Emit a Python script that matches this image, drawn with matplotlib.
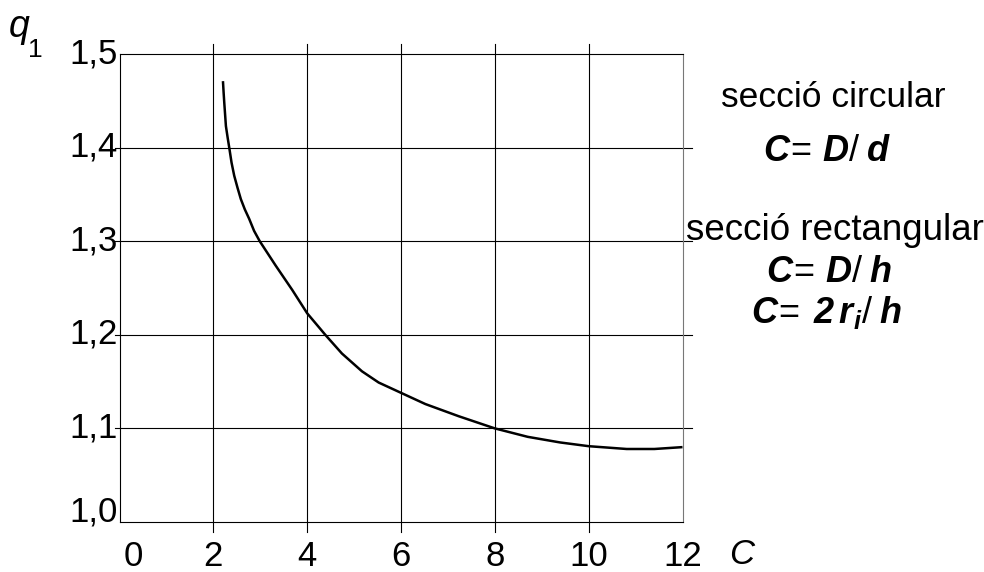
import matplotlib
matplotlib.use("Agg")
import matplotlib.pyplot as plt
import matplotlib.transforms as mtransforms

plt.rcParams['font.family'] = ['Liberation Sans', 'DejaVu Sans']
plt.rcParams['mathtext.fontset'] = 'custom'
plt.rcParams['mathtext.rm'] = 'Liberation Sans'
plt.rcParams['mathtext.it'] = 'Liberation Sans:italic'
plt.rcParams['mathtext.bf'] = 'Liberation Sans:bold:italic'

# q1 factor against spring index C
C = [2.205, 2.219, 2.233, 2.268, 2.304, 2.339, 2.388, 2.445, 2.516, 2.586,
     2.671, 2.763, 2.869, 2.989, 3.328, 3.681, 4.0, 4.386, 4.741, 5.168,
     5.524, 6.0, 6.52, 7.23, 8.0, 8.7, 9.39, 10.0, 10.81, 11.4, 12.0]
q1 = [1.471, 1.459, 1.448, 1.423, 1.411, 1.400, 1.384, 1.370, 1.357, 1.345,
      1.334, 1.324, 1.311, 1.300, 1.274, 1.248, 1.223, 1.200, 1.180, 1.161,
      1.149, 1.138, 1.126, 1.113, 1.100, 1.091, 1.085, 1.081, 1.078, 1.078,
      1.080]

xticks = [0, 2, 4, 6, 8, 10, 12]
yticks = [1.0, 1.1, 1.2, 1.3, 1.4, 1.5]
ylabels = ['1,0', '1,1', '1,2', '1,3', '1,4', '1,5']

W, H = 984, 572
fig = plt.figure(figsize=(W / 100, H / 100), dpi=100)
ax = fig.add_axes([119.5 / W, 1 - 522 / H, (682.5 - 119.5) / W, (522 - 54) / H])

ax.set_xlim(0, 12)
ax.set_ylim(1.0, 1.5)

# grid lines, sticking out a little past the frame
for x in xticks[1:-1]:
    ax.plot([x, x], [0.989, 1.511], color='black', lw=0.8, clip_on=False)
for y in yticks[1:-1]:
    ax.plot([-0.1, 12.2], [y, y], color='black', lw=0.8, clip_on=False)

ax.plot(C, q1, color='black', lw=1.8, solid_capstyle='butt')

for side in ['left', 'bottom', 'top']:
    ax.spines[side].set_color('black')
    ax.spines[side].set_linewidth(0.8)
ax.spines['right'].set_color('#777777')
ax.spines['right'].set_linewidth(0.8)

ax.set_xticks(xticks)
ax.set_xticklabels([str(v) for v in xticks])
ax.set_yticks(yticks)
ax.set_yticklabels(ylabels)
ax.tick_params(axis='both', length=0, labelsize=25)
ax.tick_params(axis='x', pad=13)
ax.tick_params(axis='y', pad=1)

# nudge labels: y labels up a bit, the 0 away from the corner
ylab = ax.get_yticklabels()
for i, lab in enumerate(ylab):
    dy = 13 if i == 0 else 4
    lab.set_transform(lab.get_transform() +
                      mtransforms.ScaledTranslation(0, dy / 100, fig.dpi_scale_trans))
xl = ax.get_xticklabels()
xl[0].set_transform(xl[0].get_transform() +
                    mtransforms.ScaledTranslation(14 / 100, 0, fig.dpi_scale_trans))

def px(x, y):
    return x / W, 1 - y / H

fig.text(*px(742, 564), 'C', fontsize=25, style='italic', ha='center', va='baseline')
fig.text(*px(9, 37), 'q', fontsize=27, style='italic', ha='left', va='baseline')
fig.text(*px(28, 57), '1', fontsize=19, ha='left', va='baseline')

fig.text(*px(833, 107), 'secció circular', fontsize=25.5, ha='center', va='baseline')
fig.text(*px(827, 161), r'$\mathbf{C}\!=\,\mathbf{D}/\;\mathbf{d}$', fontsize=26,
         ha='center', va='baseline')
fig.text(*px(686, 240), 'secció rectangular', fontsize=26.5, ha='left', va='baseline')
fig.text(*px(829, 282), r'$\mathbf{C}\!=\,\mathbf{D}/\;\mathbf{h}$', fontsize=26,
         ha='center', va='baseline')
fig.text(*px(827, 323), r'$\mathbf{C}\!=\;\mathbf{2}\,\mathbf{r}_{\mathbf{i}}/\;\mathbf{h}$',
         fontsize=26, ha='center', va='baseline')

fig.savefig('out.png', dpi=100)
